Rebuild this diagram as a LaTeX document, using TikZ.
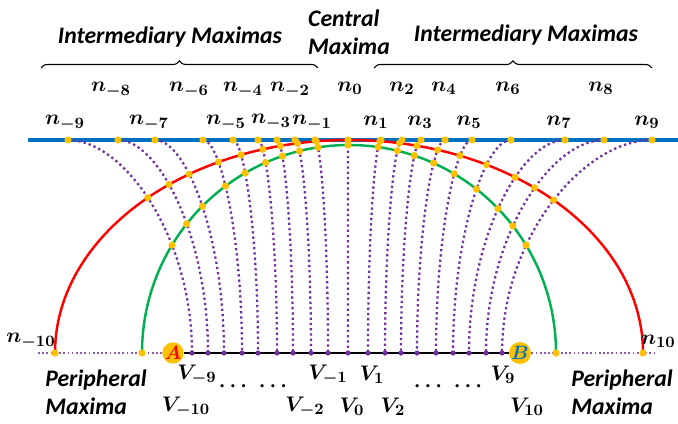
\documentclass[tikz,border=0pt]{standalone}
\usepackage{fontspec}
\usepackage{amsmath,bm}
\newfontfamily\carlito{Carlito}
\usetikzlibrary{positioning,intersections,calc,decorations.pathreplacing}
\definecolor{oblue}{HTML}{0070C0}
\definecolor{ogreen}{HTML}{00B050}
\definecolor{opurple}{HTML}{7030A0}
\definecolor{ogold}{HTML}{FFC000}
\tikzset{
  ttl/.style={font=\carlito\bfseries\itshape\fontsize{13.5}{16}\selectfont, align=left, inner sep=0pt},
  lbl/.style={font=\fontsize{12.5}{14}\selectfont, inner sep=0pt},
  ab/.style={circle, fill=ogold, inner sep=0pt, minimum size=4mm, font=\fontsize{11}{12}\selectfont},
  ray/.style={opurple, line width=1.3pt, dash pattern=on 1.3pt off 1.7pt},
  base/.style={opurple!80, line width=1pt, dash pattern=on 1pt off 1.4pt},
  brc/.style={decorate, decoration={brace, amplitude=4pt}, line width=0.6pt},
}

\begin{document}
\begin{tikzpicture}[x=0.02cm, y=-0.02cm]
\useasboundingbox (0,0) rectangle (678,423);
% titles and braces
\node[ttl] (imL) at (170,37) {Intermediary Maximas};
\node[ttl] (imR) at (526,35) {Intermediary Maximas};
\node[ttl] (cm) at (349,32) {Central\\Maxima};
\draw[brc] (41,68) -- (318,68);
\draw[brc] (374,68) -- (652,68);
% screen line and the two arcs
\coordinate (sL) at (28,140); \coordinate (sR) at (678,140);
\draw[oblue, line width=1.8pt] (sL) -- (sR);
\coordinate (rL) at (55,353); \coordinate (rR) at (643,353);
\coordinate (gL) at (142,353); \coordinate (gR) at (556,353);
\draw[red, line width=1.4pt, name path=red] (rL) arc[start angle=180, end angle=360, x radius=294, y radius=213];
\draw[ogreen, line width=1.4pt, name path=grn] (gL) arc[start angle=180, end angle=360, x radius=207, y radius=208];
% rays from V_k up to n_k
\foreach \k/\xt/\xb in {1/68/192, 2/118/208, 3/155/224, 4/203/242, 5/233/258, 6/258/277, 7/277/293, 8/295/311, 9/315/328, 10/348/348,
  11/381/368, 12/402/385, 13/421/401, 14/445/417, 15/472/436, 16/511/453, 17/565/469, 18/604/486, 19/652/502}{
  \coordinate (t\k) at (\xt,140);
  \coordinate (b\k) at (\xb,353);
  \draw[ray, name path=cv\k] (t\k) .. controls ($(t\k)!0.45!(t\k -| b\k)$) and ($(b\k)!0.55!(t\k -| b\k)$) .. (b\k);
  \path[name intersections={of=grn and cv\k, by=g\k}];
  \ifnum\k=10 \else \path[name intersections={of=red and cv\k, by=r\k}]; \fi
}
% base line A--B
\coordinate (pL) at (38,353); \coordinate (pR) at (655,353);
\node[ab] (A) at (173,353) {\color{red}$\bm{A}$};
\node[ab] (B) at (520,353) {\color{oblue}$\bm{B}$};
\draw[base] (pL) -- (A);
\draw[base] (B) -- (pR);
\draw[line width=1.5pt] (A) -- (B);
% points
\foreach \k in {1,...,19}{
  \fill[ogold] (t\k) circle (3.6);
  \fill[ogold] (g\k) circle (3.6);
  \ifnum\k=10 \else \fill[ogold] (r\k) circle (3.6); \fi
  \fill[opurple] (b\k) circle (2.6);
}
\foreach \p in {rL,rR,gL,gR} \fill[ogold] (\p) circle (3.6);
% n labels
\node[lbl] (nm9) at (65,123) {$\bm{n_{-9}}$};
\node[lbl] (nm8) at (111,90) {$\bm{n_{-8}}$};
\node[lbl] (nm7) at (149,123) {$\bm{n_{-7}}$};
\node[lbl] (nm6) at (189,90) {$\bm{n_{-6}}$};
\node[lbl] (nm5) at (226,123) {$\bm{n_{-5}}$};
\node[lbl] (nm4) at (243,90) {$\bm{n_{-4}}$};
\node[lbl] (nm3) at (271,122) {$\bm{n_{-3}}$};
\node[lbl] (nm2) at (290,90) {$\bm{n_{-2}}$};
\node[lbl] (nm1) at (312,123) {$\bm{n_{-1}}$};
\node[lbl] (n0) at (350,88) {$\bm{n_{0}}$};
\node[lbl] (n1) at (376,122) {$\bm{n_{1}}$};
\node[lbl] (n2) at (402,88) {$\bm{n_{2}}$};
\node[lbl] (n3) at (420,122) {$\bm{n_{3}}$};
\node[lbl] (n4) at (444,88) {$\bm{n_{4}}$};
\node[lbl] (n5) at (469,122) {$\bm{n_{5}}$};
\node[lbl] (n6) at (508,88) {$\bm{n_{6}}$};
\node[lbl] (n7) at (559,122) {$\bm{n_{7}}$};
\node[lbl] (n8) at (601,88) {$\bm{n_{8}}$};
\node[lbl] (n9) at (647,122) {$\bm{n_{9}}$};
\node[lbl] (nm10) at (31,341) {$\bm{n_{-10}}$};
\node[lbl, anchor=east] (n10) at (676,341) {$\bm{n_{10}}$};
% V labels
\node[lbl] (vm9) at (197,375) {$\bm{V_{-9}}$};
\node[lbl] (vm10) at (186,407) {$\bm{V_{-10}}$};
\node[lbl] (dl) at (255,386) {$\bm{\cdots}\;\;\bm{\cdots}$};
\node[lbl] (vm2) at (305,407) {$\bm{V_{-2}}$};
\node[lbl] (vm1) at (328,375) {$\bm{V_{-1}}$};
\node[lbl] (v0) at (352,407) {$\bm{V_{0}}$};
\node[lbl] (v1) at (372,375) {$\bm{V_{1}}$};
\node[lbl] (v2) at (393,407) {$\bm{V_{2}}$};
\node[lbl] (dr) at (450,386) {$\bm{\cdots}\;\;\bm{\cdots}$};
\node[lbl] (v9) at (503,375) {$\bm{V_{9}}$};
\node[lbl] (v10) at (527,407) {$\bm{V_{10}}$};
% peripheral
\node[ttl, anchor=west] (pmL) at (45,392) {Peripheral\\Maxima};
\node[ttl, anchor=west] (pmR) at (571,392) {Peripheral\\Maxima};
\end{tikzpicture}
\end{document}
